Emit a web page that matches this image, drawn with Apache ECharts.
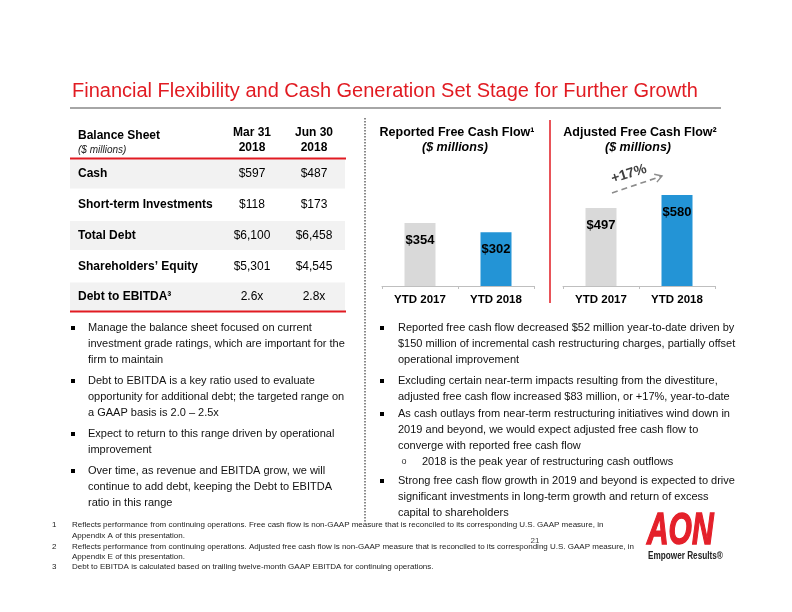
<!DOCTYPE html>
<html>
<head>
<meta charset="utf-8">
<script src="https://cdn.jsdelivr.net/npm/echarts@6/dist/echarts.min.js"></script>
<style>
html,body{margin:0;padding:0;background:#fff;}
#chart{width:792px;height:612px;}
</style>
</head>
<body>
<div id="chart"></div>
<script>
// ---------- data ----------
var slideTitle = 'Financial Flexibility and Cash Generation Set Stage for Further Growth';
var tableHeader = ['Balance Sheet', '($ millions)'];
var colHeaders = [['Mar 31', '2018'], ['Jun 30', '2018']];
var rowLabels = ['Cash', 'Short-term Investments', 'Total Debt', 'Shareholders\u2019 Equity', 'Debt to EBITDA\u00B3'];
var mar31Values = ['$597', '$118', '$6,100', '$5,301', '2.6x'];
var jun30Values = ['$487', '$173', '$6,458', '$4,545', '2.8x'];

var categories = ['YTD 2017', 'YTD 2018'];
var reportedFCF = [354, 302];
var adjustedFCF = [497, 580];
var reportedTitle = ['Reported Free Cash Flow\u00B9', '($ millions)'];
var adjustedTitle = ['Adjusted Free Cash Flow\u00B2', '($ millions)'];
var growthLabel = '+17%';

var leftBullets = [
  ['Manage the balance sheet focused on current', 'investment grade ratings, which are important for the', 'firm to maintain'],
  ['Debt to EBITDA is a key ratio used to evaluate', 'opportunity for additional debt; the targeted range on', 'a GAAP basis is 2.0 \u2013 2.5x'],
  ['Expect to return to this range driven by operational', 'improvement'],
  ['Over time, as revenue and EBITDA grow, we will', 'continue to add debt, keeping the Debt to EBITDA', 'ratio in this range']
];
var rightBullets = [
  ['Reported free cash flow decreased $52 million year-to-date driven by', '$150 million of incremental cash restructuring charges, partially offset', 'operational improvement'],
  ['Excluding certain near-term impacts resulting from the divestiture,', 'adjusted free cash flow increased $83 million, or +17%, year-to-date'],
  ['As cash outlays from near-term restructuring initiatives wind down in', '2019 and beyond, we would expect adjusted free cash flow to', 'converge with reported free cash flow'],
  ['Strong free cash flow growth in 2019 and beyond is expected to drive', 'significant investments in long-term growth and return of excess', 'capital to shareholders']
];
var subBullet = '2018 is the peak year of restructuring cash outflows';
var footnotes = [
  ['1', 'Reflects performance from continuing operations. Free cash flow is non-GAAP measure that is reconciled to its corresponding U.S. GAAP measure, in'],
  ['', 'Appendix A of this presentation.'],
  ['2', 'Reflects performance from continuing operations. Adjusted free cash flow is non-GAAP measure that is reconciled to its corresponding U.S. GAAP measure, in'],
  ['', 'Appendix E of this presentation.'],
  ['3', 'Debt to EBITDA is calculated based on trailing twelve-month GAAP EBITDA for continuing operations.']
];
var pageNumber = '21';
var logoText = 'AON';
var logoTagline = 'Empower Results\u00AE';

// ---------- rendering ----------
var FONT = "'Liberation Sans', Arial, sans-serif";
var RED = '#e11b22';
var chart = echarts.init(document.getElementById('chart'), null, {renderer: 'canvas'});
var g = [];

function txt(x, y, text, size, opts) {
  opts = opts || {};
  g.push({
    type: 'text', x: x, y: y, silent: true,
    rotation: opts.rotation || 0,
    scaleX: opts.scaleX || 1,
    z: 10,
    style: {
      text: text,
      font: (opts.style || 'normal') + ' ' + (opts.weight || 'normal') + ' ' + size + 'px ' + FONT,
      fill: opts.color || '#000',
      stroke: opts.stroke || null,
      lineWidth: opts.strokeWidth || 0,
      align: opts.align || 'left',
      verticalAlign: 'middle'
    }
  });
}
function rect(x, y, w, h, color) {
  g.push({type: 'rect', silent: true, z: 1, shape: {x: x, y: y, width: w, height: h}, style: {fill: color}});
}
function line(x1, y1, x2, y2, color, w, dash) {
  g.push({type: 'line', silent: true, z: 5, shape: {x1: x1, y1: y1, x2: x2, y2: y2},
    style: {stroke: color, lineWidth: w, lineDash: dash || null}});
}

// title
txt(72, 91, slideTitle, 20, {color: RED});
line(70, 108, 721, 108, '#a6a6a6', 2);

// table
txt(78, 136, tableHeader[0], 12, {weight: 'bold'});
txt(78, 150, tableHeader[1], 10, {style: 'italic', color: '#222'});
var colX = [252, 314];
colHeaders.forEach(function (h, i) {
  txt(colX[i], 133, h[0], 12, {weight: 'bold', align: 'center'});
  txt(colX[i], 148, h[1], 12, {weight: 'bold', align: 'center'});
});
var rowY0 = 174, rowPitch = 30.75;
rowLabels.forEach(function (lab, i) {
  var cy = rowY0 + i * rowPitch;
  if (i % 2 === 0) rect(70, cy - 14.5, 275, 29, '#f2f2f2');
  txt(78, cy, lab, 12, {weight: 'bold'});
  txt(colX[0], cy, mar31Values[i], 12, {align: 'center'});
  txt(colX[1], cy, jun30Values[i], 12, {align: 'center'});
});
line(70, 158.5, 346, 158.5, RED, 2);
line(70, 311.5, 346, 311.5, RED, 2);

// bullets
function bullets(list, bx, tx, starts) {
  list.forEach(function (lines, i) {
    rect(bx, starts[i] - 2, 4, 4, '#000');
    lines.forEach(function (l, j) {
      txt(tx, starts[i] + j * 16, l, 11, {color: '#111'});
    });
  });
}
bullets(leftBullets, 71, 88, [328, 381, 434, 471]);
bullets(rightBullets, 380, 398, [328, 381, 414, 481]);
txt(404, 462, 'o', 9, {align: 'center', color: '#333'});
txt(422, 462, subBullet, 11, {color: '#111'});

// separators
line(365, 118, 365, 522, '#8a8a8a', 2, [1.5, 1.5]);
line(550, 120, 550, 303, RED, 1.5);

// chart titles
txt(457, 133, reportedTitle[0], 12.5, {weight: 'bold', align: 'center'});
txt(455, 148, reportedTitle[1], 12.5, {weight: 'bold', style: 'italic', align: 'center'});
txt(640, 133, adjustedTitle[0], 12.5, {weight: 'bold', align: 'center'});
txt(638, 148, adjustedTitle[1], 12.5, {weight: 'bold', style: 'italic', align: 'center'});

// growth arrow annotation
(function () {
  var x1 = 612, y1 = 193, x2 = 662, y2 = 176;
  line(x1, y1, x2, y2, '#8c8c8c', 1.6, [6, 4]);
  var ang = Math.atan2(y1 - y2, x1 - x2);
  var L = 8, a = 0.55;
  g.push({type: 'polyline', silent: true, z: 5, shape: {points: [
    [x2 + L * Math.cos(ang + a), y2 + L * Math.sin(ang + a)], [x2, y2],
    [x2 + L * Math.cos(ang - a), y2 + L * Math.sin(ang - a)]]},
    style: {stroke: '#8c8c8c', lineWidth: 1.4, fill: null}});
  txt(629, 174, growthLabel, 14, {weight: 'bold', color: '#404040', align: 'center', rotation: 0.3});
})();

// footnotes
var fnY = [525, 536, 547, 557, 567];
footnotes.forEach(function (f, i) {
  if (f[0]) txt(52, fnY[i], f[0], 8, {color: '#222'});
  txt(72, fnY[i], f[1], 8, {color: '#222'});
});
txt(535, 541, pageNumber, 8, {color: '#444', align: 'center'});

// logo
txt(647, 532, logoText, 44, {weight: 'bold', style: 'italic', color: '#e4202a', scaleX: 0.68, stroke: '#e4202a', strokeWidth: 1.5});
txt(648, 556, logoTagline, 10, {weight: 'bold', color: '#222', scaleX: 0.82});

function barSeries(data, xi) {
  return {
    type: 'bar', xAxisIndex: xi, yAxisIndex: xi, barWidth: 31,
    data: data.map(function (v, i) {
      return {value: v, itemStyle: {color: i === 0 ? '#d9d9d9' : '#2394d6'}};
    }),
    label: {show: true, position: 'insideTop', distance: 11, color: '#000',
      fontFamily: FONT, fontWeight: 'bold', fontSize: 13,
      formatter: function (p) { return '$' + p.value; }},
    emphasis: {disabled: true},
    animation: false
  };
}
var xAx = function (gi) {
  return {type: 'category', gridIndex: gi, data: categories,
    axisLine: {lineStyle: {color: '#bfbfbf', width: 1}},
    axisTick: {show: true, length: 3, lineStyle: {color: '#bfbfbf'}},
    axisLabel: {color: '#000', fontFamily: FONT, fontWeight: 'bold', fontSize: 11.5, margin: 8}};
};
var yAx = function (gi, max) {
  return {type: 'value', gridIndex: gi, min: 0, max: max, show: false, splitLine: {show: false}};
};

chart.setOption({
  animation: false,
  grid: [
    {left: 382, top: 186, width: 152, height: 100, containLabel: false},
    {left: 563, top: 186, width: 152, height: 100, containLabel: false}
  ],
  xAxis: [xAx(0), xAx(1)],
  yAxis: [yAx(0, 562), yAx(1, 637)],
  series: [barSeries(reportedFCF, 0), barSeries(adjustedFCF, 1)],
  graphic: {elements: g}
});
</script>
</body>
</html>
